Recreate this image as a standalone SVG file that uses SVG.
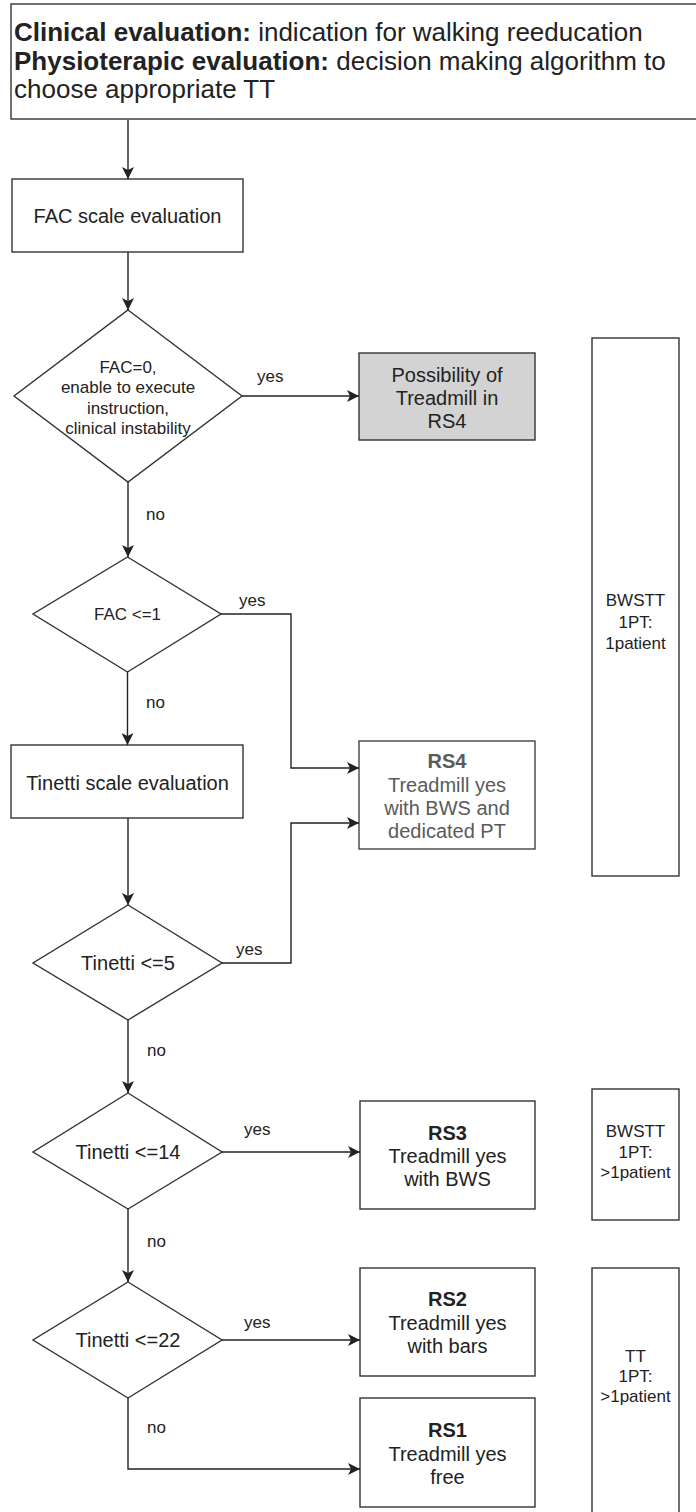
<svg xmlns="http://www.w3.org/2000/svg" width="696" height="1512" viewBox="0 0 696 1512">
<style>
  .box{fill:#fff;stroke:#333;stroke-width:1.4}
  .grey{fill:#d3d3d3;stroke:#333;stroke-width:1.4}
  .gbox{fill:#fff;stroke:#444;stroke-width:1.4}
  .conn{fill:none;stroke:#222;stroke-width:1.4}
  text{font-family:"Liberation Sans",Arial,sans-serif;fill:#222}
  .hd{font-size:26px}
  .t20{font-size:20px;text-anchor:middle}
  .t17{font-size:17px;text-anchor:middle}
  .lbl{font-size:17px}
  .b{font-weight:bold}
  .gr{fill:#5a5a5a}
</style>
<defs>
  <marker id="arr" markerUnits="userSpaceOnUse" markerWidth="13" markerHeight="12" refX="12" refY="6" orient="auto">
    <path d="M0,0 L12,6 L0,12 L3,6 z" fill="#222"/>
  </marker>
</defs>

<g id="header">
  <rect class="box" x="11" y="4" width="690" height="115"/>
  <text class="hd" x="14" y="41"><tspan class="b">Clinical evaluation:</tspan> indication for walking reeducation</text>
  <text class="hd" x="14" y="69.5"><tspan class="b">Physioterapic evaluation:</tspan> decision making algorithm to</text>
  <text class="hd" x="14" y="98">choose appropriate TT</text>
</g>

<g id="fac-eval">
  <rect class="box" x="12" y="179" width="231" height="73"/>
  <text class="t20" x="127.5" y="223">FAC scale evaluation</text>
</g>

<g id="dec-fac0">
  <polygon class="box" points="128,310 242,396 128,482 14,396"/>
  <text class="t17" x="128" y="373">FAC=0,</text>
  <text class="t17" x="128" y="393">enable to execute</text>
  <text class="t17" x="128" y="414">instruction,</text>
  <text class="t17" x="128" y="434">clinical instability</text>
</g>

<g id="possibility">
  <rect class="grey" x="359" y="353" width="176" height="87"/>
  <text class="t20" x="447" y="382">Possibility of</text>
  <text class="t20" x="447" y="405">Treadmill in</text>
  <text class="t20" x="447" y="428">RS4</text>
</g>

<g id="dec-fac1">
  <polygon class="box" points="127.5,557 221,614 127.5,672 33,614"/>
  <text class="t17" x="127.5" y="620">FAC &lt;=1</text>
</g>

<g id="tinetti-eval">
  <rect class="box" x="11" y="745" width="232" height="73"/>
  <text class="t20" x="127.5" y="790">Tinetti scale evaluation</text>
</g>

<g id="rs4">
  <rect class="gbox" x="359" y="741" width="176" height="108"/>
  <text class="t20 b gr" x="447" y="768">RS4</text>
  <text class="t20 gr" x="447" y="792">Treadmill yes</text>
  <text class="t20 gr" x="447" y="815">with BWS and</text>
  <text class="t20 gr" x="447" y="838">dedicated PT</text>
</g>

<g id="dec-tin5">
  <polygon class="box" points="128,905 222,963 128,1020 33,963"/>
  <text class="t20" x="128" y="970">Tinetti &lt;=5</text>
</g>

<g id="dec-tin14">
  <polygon class="box" points="128,1093 222,1152 128,1209 33,1152"/>
  <text class="t20" x="128" y="1159">Tinetti &lt;=14</text>
</g>

<g id="rs3">
  <rect class="box" x="360" y="1101" width="175" height="108"/>
  <text class="t20 b" x="447.5" y="1140">RS3</text>
  <text class="t20" x="447.5" y="1163">Treadmill yes</text>
  <text class="t20" x="447.5" y="1186">with BWS</text>
</g>

<g id="dec-tin22">
  <polygon class="box" points="128,1282 222,1340 128,1398 33,1340"/>
  <text class="t20" x="128" y="1347">Tinetti &lt;=22</text>
</g>

<g id="rs2">
  <rect class="box" x="360" y="1268" width="175" height="108"/>
  <text class="t20 b" x="447.5" y="1306">RS2</text>
  <text class="t20" x="447.5" y="1330">Treadmill yes</text>
  <text class="t20" x="447.5" y="1353">with bars</text>
</g>

<g id="rs1">
  <rect class="box" x="360" y="1398" width="175" height="109"/>
  <text class="t20 b" x="447.5" y="1437">RS1</text>
  <text class="t20" x="447.5" y="1461">Treadmill yes</text>
  <text class="t20" x="447.5" y="1484">free</text>
</g>

<g id="side-bwstt-1">
  <rect class="box" x="592" y="338" width="87" height="538"/>
  <text class="t17" x="635.5" y="606">BWSTT</text>
  <text class="t17" x="635.5" y="628">1PT:</text>
  <text class="t17" x="635.5" y="649">1patient</text>
</g>

<g id="side-bwstt-2">
  <rect class="box" x="592" y="1089" width="87" height="131"/>
  <text class="t17" x="635.5" y="1137">BWSTT</text>
  <text class="t17" x="635.5" y="1158">1PT:</text>
  <text class="t17" x="635.5" y="1178">&gt;1patient</text>
</g>

<g id="side-tt">
  <rect class="box" x="592" y="1268" width="87" height="260"/>
  <text class="t17" x="635.5" y="1362">TT</text>
  <text class="t17" x="635.5" y="1382">1PT:</text>
  <text class="t17" x="635.5" y="1402">&gt;1patient</text>
</g>

<g id="connectors">
  <path class="conn" d="M128,120 V179" marker-end="url(#arr)"/>
  <path class="conn" d="M128,252 V310" marker-end="url(#arr)"/>
  <path class="conn" d="M242,396 H359" marker-end="url(#arr)"/>
  <path class="conn" d="M128,482 V557" marker-end="url(#arr)"/>
  <path class="conn" d="M221,614 H291 V768 H359" marker-end="url(#arr)"/>
  <path class="conn" d="M127.5,672 V745" marker-end="url(#arr)"/>
  <path class="conn" d="M128,818 V905" marker-end="url(#arr)"/>
  <path class="conn" d="M222,963 H291 V823 H359" marker-end="url(#arr)"/>
  <path class="conn" d="M128,1020 V1093" marker-end="url(#arr)"/>
  <path class="conn" d="M222,1152 H360" marker-end="url(#arr)"/>
  <path class="conn" d="M128,1209 V1282" marker-end="url(#arr)"/>
  <path class="conn" d="M222,1340 H360" marker-end="url(#arr)"/>
  <path class="conn" d="M128,1398 V1469 H360" marker-end="url(#arr)"/>
  <text class="lbl" x="257" y="382">yes</text>
  <text class="lbl" x="146" y="520">no</text>
  <text class="lbl" x="239" y="606">yes</text>
  <text class="lbl" x="146" y="708">no</text>
  <text class="lbl" x="236" y="955">yes</text>
  <text class="lbl" x="147" y="1056">no</text>
  <text class="lbl" x="244" y="1135">yes</text>
  <text class="lbl" x="147" y="1247">no</text>
  <text class="lbl" x="244" y="1328">yes</text>
  <text class="lbl" x="147" y="1433">no</text>
</g>
</svg>
